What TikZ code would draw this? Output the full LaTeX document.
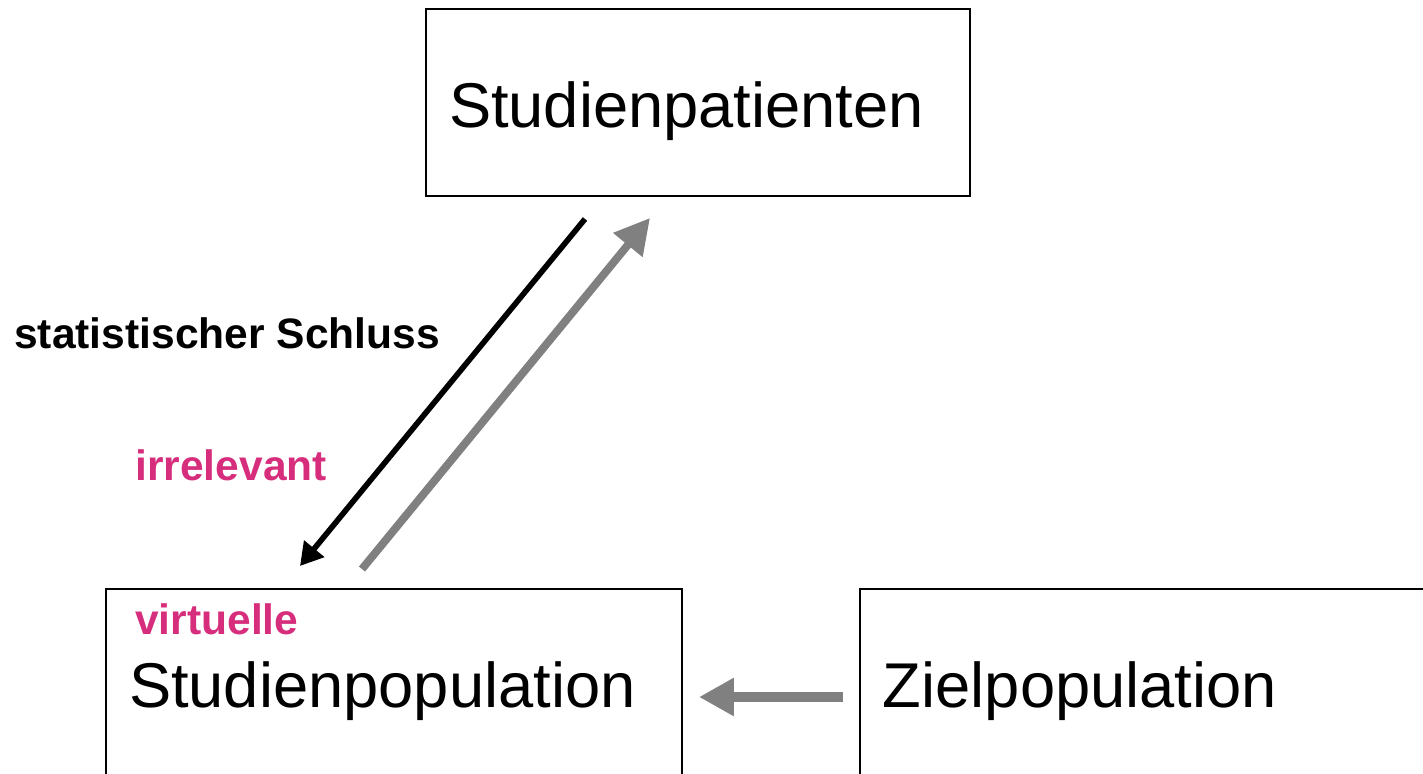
\documentclass[tikz,border=0pt]{standalone}
\usepackage{fontspec}
\setmainfont{Liberation Sans}
\usetikzlibrary{positioning,arrows.meta}
\definecolor{hlpink}{RGB}{214,46,124}
\definecolor{arrgray}{RGB}{128,128,128}

\begin{document}
\begin{tikzpicture}[
  box/.style={draw, line width=1.1pt, inner xsep=0.46cm, text depth=0.2cm, align=left, font=\fontsize{36}{43}\selectfont},
  lbl/.style={inner sep=0pt, anchor=west, font=\fontsize{24.2}{29}\selectfont\bfseries},
  infer/.style={line width=3.2pt, -{Triangle[length=0.45cm,width=0.5cm]}},
  flow/.style={line width=4.5pt, arrgray, -{Triangle[length=0.7cm,width=0.72cm]}}
]
  \useasboundingbox (0,0) rectangle (28.46,15.46);

  \node[box, text width=9.96cm, text height=1.2cm, minimum height=3.74cm] (patienten) at (13.96,13.41) {Studienpatienten};
  \node[box, text width=10.6cm, text height=1.04cm, minimum height=3.88cm] (studpop) at (7.88,1.74) {Studienpopulation};
  \node[box, text width=10.6cm, text height=1.04cm, minimum height=3.88cm, right=3.52cm of studpop] (zielpop) {Zielpopulation};

  \node[lbl, text=hlpink] (virt) at (2.70,3.08) {virtuelle};
  \node[lbl] (schluss) at (0.28,8.8) {statistischer Schluss};
  \node[lbl, text=hlpink] (irrel) at (2.70,6.16) {irrelevant};

  \draw[infer] ([xshift=-2.26cm,yshift=-0.44cm]patienten.south) -- ([xshift=-1.88cm,yshift=0.44cm]studpop.north);
  \draw[flow] ([xshift=-0.64cm,yshift=0.38cm]studpop.north) -- ([xshift=-0.96cm,yshift=-0.42cm]patienten.south);
  \draw[flow, line width=6pt] ([xshift=-0.32cm,yshift=-0.22cm]zielpop.west) -- ([xshift=0.32cm,yshift=-0.22cm]studpop.east);
\end{tikzpicture}
\end{document}
